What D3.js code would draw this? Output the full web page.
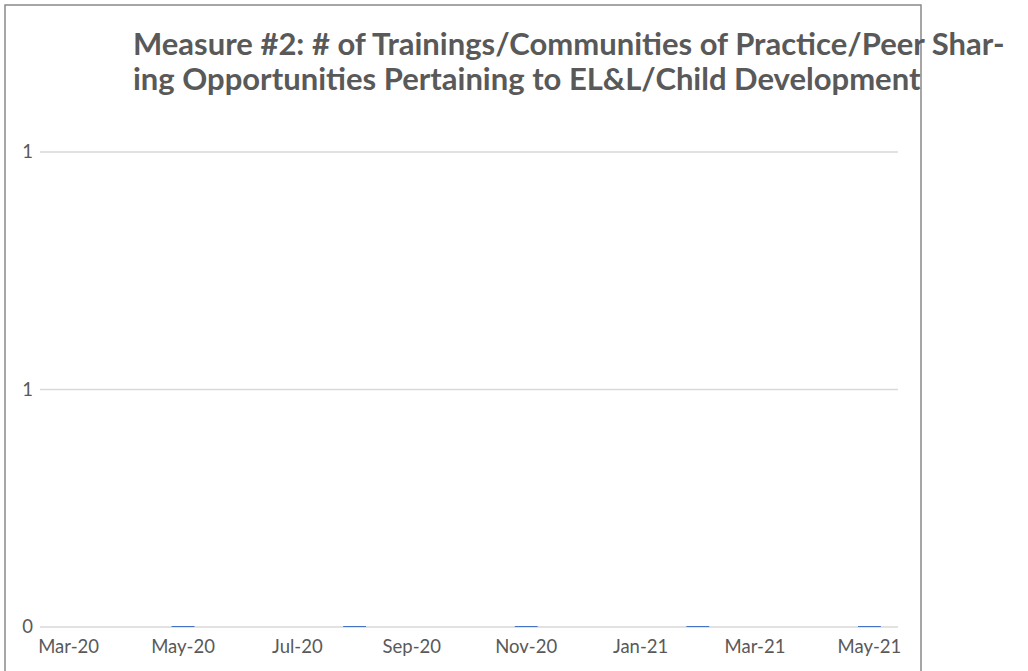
<!DOCTYPE html>
<html>
<head>
<meta charset="utf-8">
<script src="https://cdn.jsdelivr.net/npm/d3@7"></script>
<style>
  body { margin: 0; background: #fff; }
  text { font-family: Lato, "Open Sans", sans-serif; }
</style>
</head>
<body>
<svg id="chart" width="1028" height="671"></svg>
<script>
// data
var months = ["Mar-20","Apr-20","May-20","Jun-20","Jul-20","Aug-20","Sep-20","Oct-20",
              "Nov-20","Dec-20","Jan-21","Feb-21","Mar-21","Apr-21","May-21"];
var tickLabels = ["Mar-20","May-20","Jul-20","Sep-20","Nov-20","Jan-21","Mar-21","May-21"];
var barMonths = ["May-20","Aug-20","Nov-20","Feb-21","May-21"];
var barValues = [0, 0, 0, 0, 0];
var yTicks = [0, 0.5, 1];
var titleLines = ["Measure #2: # of Trainings/Communities of Practice/Peer Shar-",
                  "ing Opportunities Pertaining to EL&L/Child Development"];

var svg = d3.select("#chart");
var margin = {left: 40, right: 130, top: 152, bottom: 44};
var width = 1028 - margin.left - margin.right,
    height = 671 - margin.top - margin.bottom;

// chart border
svg.append("rect")
  .attr("x", 5).attr("y", 5)
  .attr("width", 916).attr("height", 680)
  .attr("fill", "none")
  .attr("stroke", "#898989")
  .attr("stroke-width", 1.5);

var x = d3.scaleBand().domain(months).range([0, width]);
var y = d3.scaleLinear().domain([0, 1]).range([height, 0]);

var g = svg.append("g")
  .attr("transform", "translate(" + margin.left + "," + margin.top + ")");

// gridlines
g.selectAll(".grid")
  .data(yTicks)
  .enter().append("line")
  .attr("x1", 0).attr("x2", width)
  .attr("y1", function(d) { return y(d); })
  .attr("y2", function(d) { return y(d); })
  .attr("stroke", "#d9d9d9")
  .attr("stroke-width", 1.3);

// y axis
var yAxis = g.append("g")
  .call(d3.axisLeft(y).tickValues(yTicks).tickSize(0).tickPadding(7)
    .tickFormat(d3.format(".0f")));
yAxis.select(".domain").remove();
yAxis.selectAll("text")
  .style("font-size", "18.5px")
  .attr("fill", "#595959");

// x axis
var xAxis = g.append("g")
  .attr("transform", "translate(0," + height + ")")
  .call(d3.axisBottom(x).tickValues(tickLabels).tickSize(0).tickPadding(12.5));
xAxis.select(".domain").remove();
xAxis.selectAll("text")
  .style("font-size", "18.5px")
  .attr("fill", "#595959");

// bars (all zero)
var barW = x.bandwidth() * 0.4;
g.selectAll(".bar")
  .data(barValues)
  .enter().append("rect")
  .attr("x", function(d, i) { return x(barMonths[i]) + x.bandwidth() / 2 - barW / 2; })
  .attr("y", function(d) { return y(d) - 1; })
  .attr("width", barW)
  .attr("height", function(d) { return height - y(d) + 1; })
  .attr("fill", "#4472c4");

// title, two lines as in the reference
svg.selectAll(".title")
  .data(titleLines)
  .enter().append("text")
  .attr("class", "title")
  .attr("x", 133)
  .attr("y", function(d, i) { return 55 + i * 35; })
  .attr("font-weight", "bold")
  .style("font-size", "31px")
  .attr("fill", "#595959")
  .text(function(d) { return d; });
</script>
</body>
</html>
